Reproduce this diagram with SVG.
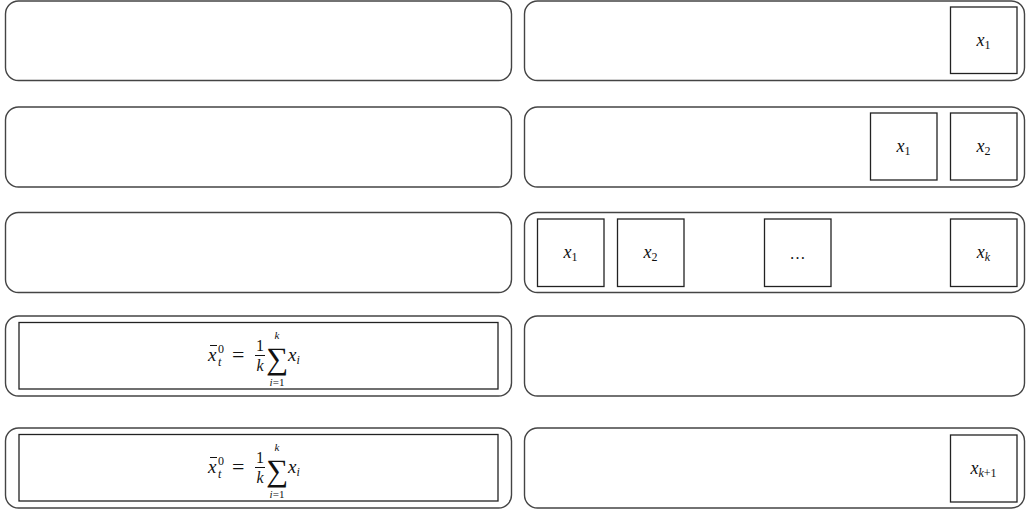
<svg xmlns="http://www.w3.org/2000/svg" width="1026" height="510" viewBox="0 0 1026 510">
<style>
.outer{fill:#fff;stroke:#444;stroke-width:1.4}
.box{fill:#fff;stroke:#222;stroke-width:1.3}
.m{font-family:"Liberation Serif","Times New Roman",serif;fill:#111}
.it{font-style:italic}
.lbl{font-size:18px}
.sub{font-size:12px}
</style>
<defs>
<g id="formula">
<text class="m it" x="208" y="361" font-size="19">x</text>
<line x1="210" y1="345.5" x2="217" y2="345.5" stroke="#111" stroke-width="1"/>
<text class="m" x="218" y="353" font-size="12">0</text>
<text class="m it" x="218" y="366" font-size="12">t</text>
<text class="m" x="232" y="362" font-size="22">=</text>
<text class="m" x="260" y="351" font-size="16" text-anchor="middle">1</text>
<line x1="255" y1="355.5" x2="265" y2="355.5" stroke="#111" stroke-width="1"/>
<text class="m it" x="260" y="371" font-size="16" text-anchor="middle">k</text>
<text class="m" x="277" y="369" font-size="31" text-anchor="middle">∑</text>
<text class="m it" x="277" y="339" font-size="11" text-anchor="middle">k</text>
<text class="m" x="277" y="386" font-size="11" text-anchor="middle"><tspan class="it">i</tspan>=1</text>
<text class="m it" x="288" y="361" font-size="19">x<tspan font-size="12" dy="3">i</tspan></text>
</g>
</defs>
<rect width="1026" height="510" fill="#fff"/>
<g id="left1"><rect class="outer" x="5.5" y="1" width="506" height="79.5" rx="13"/></g>
<g id="right1"><rect class="outer" x="524.5" y="1" width="500" height="79.5" rx="13"/>
<g id="r1x1"><rect class="box" x="950.5" y="7" width="66.5" height="66.5"/>
<text class="m lbl" x="983.5" y="46" text-anchor="middle"><tspan class="it">x</tspan><tspan class="sub" dy="3">1</tspan></text></g></g>

<g id="left2"><rect class="outer" x="5.5" y="107" width="506" height="80" rx="13"/></g>
<g id="right2"><rect class="outer" x="524.5" y="107" width="500" height="80" rx="13"/>
<g id="r2x1"><rect class="box" x="870.5" y="113" width="66.5" height="67"/>
<text class="m lbl" x="903.5" y="152" text-anchor="middle"><tspan class="it">x</tspan><tspan class="sub" dy="3">1</tspan></text></g>
<g id="r2x2"><rect class="box" x="950.5" y="113" width="66.5" height="67"/>
<text class="m lbl" x="983.5" y="152" text-anchor="middle"><tspan class="it">x</tspan><tspan class="sub" dy="3">2</tspan></text></g></g>

<g id="left3"><rect class="outer" x="5.5" y="212.5" width="506" height="80" rx="13"/></g>
<g id="right3"><rect class="outer" x="524.5" y="212.5" width="500" height="80" rx="13"/>
<g id="r3x1"><rect class="box" x="537.5" y="219" width="66.5" height="67.5"/>
<text class="m lbl" x="570.5" y="258" text-anchor="middle"><tspan class="it">x</tspan><tspan class="sub" dy="3">1</tspan></text></g>
<g id="r3x2"><rect class="box" x="617.5" y="219" width="66.5" height="67.5"/>
<text class="m lbl" x="650.5" y="258" text-anchor="middle"><tspan class="it">x</tspan><tspan class="sub" dy="3">2</tspan></text></g>
<g id="r3dots"><rect class="box" x="764.5" y="219" width="66.5" height="67.5"/>
<text class="m" font-size="16" x="797.5" y="259" text-anchor="middle">…</text></g>
<g id="r3xk"><rect class="box" x="950.5" y="219" width="66.5" height="67.5"/>
<text class="m lbl" x="983.5" y="258" text-anchor="middle"><tspan class="it">x</tspan><tspan class="sub it" dy="3">k</tspan></text></g></g>

<g id="left4"><rect class="outer" x="5.5" y="316" width="506" height="80" rx="13"/>
<rect class="box" x="19" y="322.5" width="479" height="66.5" stroke-width="1.6"/>
<use id="formula4" href="#formula"/></g>
<g id="right4"><rect class="outer" x="524.5" y="316" width="500" height="80" rx="13"/></g>

<g id="left5"><rect class="outer" x="5.5" y="428" width="506" height="80" rx="13"/>
<rect class="box" x="19" y="434.5" width="479" height="66.5" stroke-width="1.6"/>
<use id="formula5" href="#formula" transform="translate(0,112)"/></g>
<g id="right5"><rect class="outer" x="524.5" y="428" width="500" height="80" rx="13"/>
<g id="r5xk1"><rect class="box" x="950.5" y="435" width="66.5" height="67"/>
<text class="m lbl" x="983.5" y="474" text-anchor="middle"><tspan class="it">x</tspan><tspan class="sub" dy="3"><tspan class="it">k</tspan>+1</tspan></text></g></g>
<g id="connectors"/>
</svg>
